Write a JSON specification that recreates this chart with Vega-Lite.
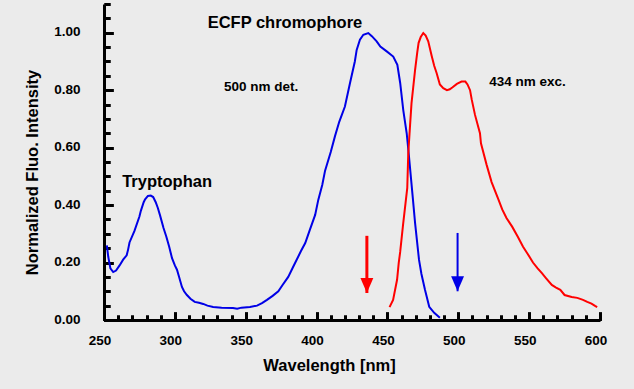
{
  "$schema": "https://vega.github.io/schema/vega-lite/v6.json",
  "width": 496,
  "height": 316,
  "autosize": {"type": "none"},
  "padding": {"left": 104, "top": 4, "right": 34, "bottom": 69},
  "background": "#ebebeb",
  "config": {"view": {"stroke": null}, "font": "Liberation Sans"},
  "resolve": {"axis": {"x": "independent", "y": "independent"}},
  "datasets": {
    "spectra": [
      {"wl": 252, "v": 0.26, "s": "det"},
      {"wl": 253, "v": 0.22, "s": "det"},
      {"wl": 254.5, "v": 0.18, "s": "det"},
      {"wl": 256.5, "v": 0.167, "s": "det"},
      {"wl": 258.5, "v": 0.172, "s": "det"},
      {"wl": 261, "v": 0.19, "s": "det"},
      {"wl": 263.5, "v": 0.21, "s": "det"},
      {"wl": 266, "v": 0.225, "s": "det"},
      {"wl": 267, "v": 0.245, "s": "det"},
      {"wl": 268, "v": 0.27, "s": "det"},
      {"wl": 271.5, "v": 0.31, "s": "det"},
      {"wl": 275, "v": 0.36, "s": "det"},
      {"wl": 276, "v": 0.38, "s": "det"},
      {"wl": 278, "v": 0.41, "s": "det"},
      {"wl": 279, "v": 0.42, "s": "det"},
      {"wl": 281, "v": 0.432, "s": "det"},
      {"wl": 283, "v": 0.433, "s": "det"},
      {"wl": 284.7, "v": 0.428, "s": "det"},
      {"wl": 286.5, "v": 0.41, "s": "det"},
      {"wl": 288, "v": 0.39, "s": "det"},
      {"wl": 289.5, "v": 0.365, "s": "det"},
      {"wl": 292, "v": 0.32, "s": "det"},
      {"wl": 294, "v": 0.29, "s": "det"},
      {"wl": 296, "v": 0.255, "s": "det"},
      {"wl": 298, "v": 0.215, "s": "det"},
      {"wl": 300, "v": 0.19, "s": "det"},
      {"wl": 301.5, "v": 0.175, "s": "det"},
      {"wl": 303, "v": 0.15, "s": "det"},
      {"wl": 305, "v": 0.115, "s": "det"},
      {"wl": 306.5, "v": 0.1, "s": "det"},
      {"wl": 308.5, "v": 0.087, "s": "det"},
      {"wl": 311, "v": 0.074, "s": "det"},
      {"wl": 314, "v": 0.063, "s": "det"},
      {"wl": 317, "v": 0.06, "s": "det"},
      {"wl": 320, "v": 0.056, "s": "det"},
      {"wl": 323, "v": 0.05, "s": "det"},
      {"wl": 327, "v": 0.045, "s": "det"},
      {"wl": 333, "v": 0.043, "s": "det"},
      {"wl": 341, "v": 0.042, "s": "det"},
      {"wl": 344, "v": 0.039, "s": "det"},
      {"wl": 347, "v": 0.043, "s": "det"},
      {"wl": 353, "v": 0.045, "s": "det"},
      {"wl": 358, "v": 0.05, "s": "det"},
      {"wl": 361.5, "v": 0.059, "s": "det"},
      {"wl": 365, "v": 0.07, "s": "det"},
      {"wl": 369, "v": 0.084, "s": "det"},
      {"wl": 373, "v": 0.1, "s": "det"},
      {"wl": 376, "v": 0.122, "s": "det"},
      {"wl": 380, "v": 0.15, "s": "det"},
      {"wl": 383, "v": 0.18, "s": "det"},
      {"wl": 385, "v": 0.2, "s": "det"},
      {"wl": 389, "v": 0.24, "s": "det"},
      {"wl": 392, "v": 0.268, "s": "det"},
      {"wl": 395, "v": 0.31, "s": "det"},
      {"wl": 399, "v": 0.366, "s": "det"},
      {"wl": 401.2, "v": 0.418, "s": "det"},
      {"wl": 404, "v": 0.47, "s": "det"},
      {"wl": 406, "v": 0.52, "s": "det"},
      {"wl": 410, "v": 0.585, "s": "det"},
      {"wl": 413, "v": 0.64, "s": "det"},
      {"wl": 416, "v": 0.69, "s": "det"},
      {"wl": 420, "v": 0.743, "s": "det"},
      {"wl": 423.6, "v": 0.825, "s": "det"},
      {"wl": 427, "v": 0.9, "s": "det"},
      {"wl": 428.3, "v": 0.94, "s": "det"},
      {"wl": 430.6, "v": 0.976, "s": "det"},
      {"wl": 433, "v": 0.993, "s": "det"},
      {"wl": 436.5, "v": 0.999, "s": "det"},
      {"wl": 439, "v": 0.988, "s": "det"},
      {"wl": 442.4, "v": 0.97, "s": "det"},
      {"wl": 445, "v": 0.952, "s": "det"},
      {"wl": 449.5, "v": 0.935, "s": "det"},
      {"wl": 454.1, "v": 0.917, "s": "det"},
      {"wl": 457, "v": 0.888, "s": "det"},
      {"wl": 459, "v": 0.825, "s": "det"},
      {"wl": 461.2, "v": 0.73, "s": "det"},
      {"wl": 463.6, "v": 0.65, "s": "det"},
      {"wl": 465, "v": 0.58, "s": "det"},
      {"wl": 468, "v": 0.42, "s": "det"},
      {"wl": 469.5, "v": 0.338, "s": "det"},
      {"wl": 472.3, "v": 0.209, "s": "det"},
      {"wl": 474, "v": 0.16, "s": "det"},
      {"wl": 476.5, "v": 0.105, "s": "det"},
      {"wl": 479.5, "v": 0.046, "s": "det"},
      {"wl": 483, "v": 0.025, "s": "det"},
      {"wl": 487, "v": 0.008, "s": "det"},
      {"wl": 451.5, "v": 0.045, "s": "exc"},
      {"wl": 454, "v": 0.07, "s": "exc"},
      {"wl": 456.8, "v": 0.14, "s": "exc"},
      {"wl": 458, "v": 0.2, "s": "exc"},
      {"wl": 459, "v": 0.237, "s": "exc"},
      {"wl": 461, "v": 0.33, "s": "exc"},
      {"wl": 464, "v": 0.46, "s": "exc"},
      {"wl": 464.7, "v": 0.58, "s": "exc"},
      {"wl": 466, "v": 0.68, "s": "exc"},
      {"wl": 467, "v": 0.755, "s": "exc"},
      {"wl": 469.5, "v": 0.87, "s": "exc"},
      {"wl": 471, "v": 0.93, "s": "exc"},
      {"wl": 472, "v": 0.965, "s": "exc"},
      {"wl": 473.5, "v": 0.985, "s": "exc"},
      {"wl": 475.3, "v": 0.999, "s": "exc"},
      {"wl": 477, "v": 0.99, "s": "exc"},
      {"wl": 478.8, "v": 0.97, "s": "exc"},
      {"wl": 481.2, "v": 0.92, "s": "exc"},
      {"wl": 483, "v": 0.885, "s": "exc"},
      {"wl": 484.7, "v": 0.86, "s": "exc"},
      {"wl": 487, "v": 0.82, "s": "exc"},
      {"wl": 489.4, "v": 0.807, "s": "exc"},
      {"wl": 492, "v": 0.8, "s": "exc"},
      {"wl": 494, "v": 0.803, "s": "exc"},
      {"wl": 496, "v": 0.81, "s": "exc"},
      {"wl": 499, "v": 0.822, "s": "exc"},
      {"wl": 502.3, "v": 0.83, "s": "exc"},
      {"wl": 505, "v": 0.83, "s": "exc"},
      {"wl": 506.5, "v": 0.82, "s": "exc"},
      {"wl": 508.3, "v": 0.8, "s": "exc"},
      {"wl": 509.5, "v": 0.767, "s": "exc"},
      {"wl": 511.8, "v": 0.714, "s": "exc"},
      {"wl": 515.3, "v": 0.65, "s": "exc"},
      {"wl": 516, "v": 0.615, "s": "exc"},
      {"wl": 520, "v": 0.54, "s": "exc"},
      {"wl": 523.5, "v": 0.48, "s": "exc"},
      {"wl": 528.3, "v": 0.42, "s": "exc"},
      {"wl": 531, "v": 0.385, "s": "exc"},
      {"wl": 534, "v": 0.355, "s": "exc"},
      {"wl": 538, "v": 0.325, "s": "exc"},
      {"wl": 542, "v": 0.29, "s": "exc"},
      {"wl": 545.7, "v": 0.255, "s": "exc"},
      {"wl": 549, "v": 0.23, "s": "exc"},
      {"wl": 552.7, "v": 0.2, "s": "exc"},
      {"wl": 556, "v": 0.18, "s": "exc"},
      {"wl": 559, "v": 0.163, "s": "exc"},
      {"wl": 562, "v": 0.145, "s": "exc"},
      {"wl": 566, "v": 0.122, "s": "exc"},
      {"wl": 569, "v": 0.113, "s": "exc"},
      {"wl": 572, "v": 0.105, "s": "exc"},
      {"wl": 575, "v": 0.087, "s": "exc"},
      {"wl": 580, "v": 0.08, "s": "exc"},
      {"wl": 584, "v": 0.077, "s": "exc"},
      {"wl": 588, "v": 0.07, "s": "exc"},
      {"wl": 591, "v": 0.063, "s": "exc"},
      {"wl": 594, "v": 0.057, "s": "exc"},
      {"wl": 596.5, "v": 0.049, "s": "exc"},
      {"wl": 598, "v": 0.045, "s": "exc"}
    ],
    "arrows": [
      {"wl": 435.5, "top": 0.293, "tip": 0.094, "s": "exc"},
      {"wl": 499.5, "top": 0.303, "tip": 0.1, "s": "det"}
    ],
    "bigLabels": [
      {"wl": 377.7, "v": 1.035, "text": "ECFP chromophore"},
      {"wl": 294.5, "v": 0.481, "text": "Tryptophan"}
    ],
    "smallLabels": [
      {"wl": 360.8, "v": 0.812, "text": "500 nm det."},
      {"wl": 548.9, "v": 0.829, "text": "434 nm exc."}
    ]
  },
  "layer": [
    {
      "data": {"name": "spectra"},
      "mark": {"type": "line", "strokeWidth": 2, "clip": true},
      "encoding": {
        "x": {
          "field": "wl",
          "type": "quantitative",
          "scale": {"domain": [250, 600], "nice": false, "zero": false},
          "axis": {
            "orient": "bottom",
            "title": "Wavelength [nm]",
            "tickCount": 7,
            "format": "d",
            "gridColor": "#ebebeb",
            "tickColor": "black",
            "tickWidth": 3,
            "tickSize": -8,
            "domainColor": "black",
            "domainWidth": 3,
            "labelFontSize": 13.5,
            "labelFontWeight": "bold",
            "labelColor": "black",
            "labelOffset": -4.5,
            "labelPadding": 21,
            "labelFlush": false,
            "labelOverlap": false,
            "titleFontSize": 16.5,
            "titleFontWeight": "bold",
            "titleColor": "black",
            "titleBaseline": "middle",
            "titleX": 225,
            "titleY": 45
          }
        },
        "y": {
          "field": "v",
          "type": "quantitative",
          "scale": {"domain": [0, 1.1], "nice": false},
          "axis": {
            "orient": "left",
            "title": "Normalized Fluo. Intensity",
            "tickCount": 6,
            "format": ".2f",
            "gridColor": "#ebebeb",
            "tickColor": "black",
            "tickWidth": 3,
            "tickSize": -9,
            "domainColor": "black",
            "domainWidth": 3,
            "labelFontSize": 13.5,
            "labelFontWeight": "bold",
            "labelColor": "black",
            "labelPadding": 33,
            "labelOffset": -1,
            "labelFlush": false,
            "labelOverlap": false,
            "titleFontSize": 16.5,
            "titleFontWeight": "bold",
            "titleColor": "black",
            "titleBaseline": "middle",
            "titleX": -72,
            "titleY": 168
          }
        },
        "color": {"field": "s", "type": "nominal", "scale": {"domain": ["det", "exc"], "range": ["#0000e6", "#ff0000"]}, "legend": null}
      }
    },
    {
      "data": {"name": "arrows"},
      "mark": {"type": "rule"},
      "encoding": {
        "x": {
          "field": "wl",
          "type": "quantitative",
          "axis": {
            "orient": "top",
            "offset": -316,
            "title": null,
            "tickCount": 35,
            "labels": false,
            "domain": false,
            "gridColor": "#ebebeb",
            "tickColor": "black",
            "tickWidth": 3,
            "tickSize": 5
          }
        },
        "y": {
          "field": "top",
          "type": "quantitative",
          "axis": {
            "orient": "right",
            "offset": -496,
            "title": null,
            "tickCount": 22,
            "labels": false,
            "domain": false,
            "gridColor": "#ebebeb",
            "tickColor": "black",
            "tickWidth": 3,
            "tickSize": 6
          }
        },
        "y2": {"field": "tip"},
        "color": {"field": "s", "type": "nominal", "scale": {"domain": ["det", "exc"], "range": ["#0000e6", "#ff0000"]}, "legend": null},
        "strokeWidth": {"field": "s", "type": "nominal", "scale": {"domain": ["det", "exc"], "range": [2, 3]}, "legend": null}
      }
    },
    {
      "data": {"name": "arrows"},
      "mark": {"type": "point", "filled": true, "opacity": 1, "shape": "M-0.43,-1L0.43,-1L0,0Z", "size": 900},
      "encoding": {
        "x": {
          "field": "wl",
          "type": "quantitative",
          "axis": {
            "orient": "top",
            "offset": -316,
            "title": null,
            "tickCount": 35,
            "labels": false,
            "domain": false,
            "gridColor": "#ebebeb",
            "tickColor": "black",
            "tickWidth": 3,
            "tickSize": 5
          }
        },
        "y": {
          "field": "tip",
          "type": "quantitative",
          "axis": {
            "orient": "right",
            "offset": -496,
            "title": null,
            "tickCount": 22,
            "labels": false,
            "domain": false,
            "gridColor": "#ebebeb",
            "tickColor": "black",
            "tickWidth": 3,
            "tickSize": 6
          }
        },
        "color": {"field": "s", "type": "nominal", "scale": {"domain": ["det", "exc"], "range": ["#0000e6", "#ff0000"]}, "legend": null}
      }
    },
    {
      "data": {"name": "bigLabels"},
      "mark": {"type": "text", "fontSize": 16.5, "fontWeight": "bold", "color": "black", "align": "center", "baseline": "middle"},
      "encoding": {
        "x": {
          "field": "wl",
          "type": "quantitative",
          "axis": {
            "orient": "top",
            "offset": -316,
            "title": null,
            "tickCount": 7,
            "labels": false,
            "domain": false,
            "gridColor": "#ebebeb",
            "tickColor": "black",
            "tickWidth": 3,
            "tickSize": 8
          }
        },
        "y": {
          "field": "v",
          "type": "quantitative",
          "axis": {
            "orient": "right",
            "offset": -496,
            "title": null,
            "tickCount": 6,
            "labels": false,
            "domain": false,
            "gridColor": "#ebebeb",
            "tickColor": "black",
            "tickWidth": 3,
            "tickSize": 9
          }
        },
        "text": {"field": "text"}
      }
    },
    {
      "data": {"name": "smallLabels"},
      "mark": {"type": "text", "fontSize": 13.5, "fontWeight": "bold", "color": "black", "align": "center", "baseline": "middle"},
      "encoding": {
        "x": {
          "field": "wl",
          "type": "quantitative",
          "axis": {
            "orient": "top",
            "offset": -316,
            "title": null,
            "tickCount": 7,
            "labels": false,
            "domain": false,
            "gridColor": "#ebebeb",
            "tickColor": "black",
            "tickWidth": 3,
            "tickSize": 8
          }
        },
        "y": {
          "field": "v",
          "type": "quantitative",
          "axis": {
            "orient": "right",
            "offset": -496,
            "title": null,
            "tickCount": 6,
            "labels": false,
            "domain": false,
            "gridColor": "#ebebeb",
            "tickColor": "black",
            "tickWidth": 3,
            "tickSize": 9
          }
        },
        "text": {"field": "text"}
      }
    }
  ]
}
